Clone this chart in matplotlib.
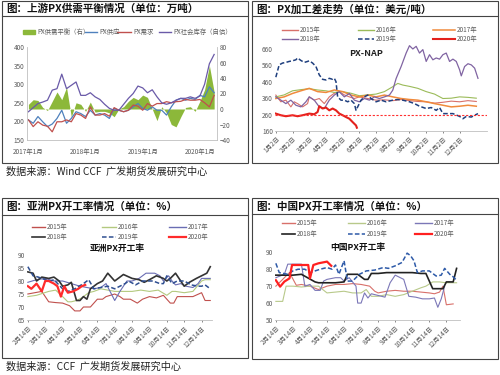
import matplotlib
matplotlib.use('Agg')
import matplotlib.pyplot as plt
from matplotlib.lines import Line2D
from matplotlib.patches import Rectangle

plt.rcParams['font.family'] = ['Noto Sans CJK SC', 'DejaVu Sans']

# ---------- panel 1: PX supply / demand (monthly, 2017-01 .. 2020-04)
p1_ticklabels = ['2017年1月', '2018年1月', '2019年1月', '2020年1月']
p1_supply = [204, 195, 213, 199, 186, 193, 208, 230, 195, 208, 226, 221, 213, 230, 217, 221, 217, 208, 235, 230,
             226, 230, 239, 248, 235, 230, 239, 230, 230, 217, 239, 257, 262, 257, 262, 259, 270, 266, 293, 277]
p1_demand = [204, 186, 199, 190, 187, 172, 199, 199, 204, 199, 221, 217, 208, 239, 217, 217, 221, 214, 237, 230,
             226, 230, 244, 241, 230, 248, 241, 248, 248, 253, 250, 253, 254, 259, 257, 257, 259, 250, 239, 270]
p1_stock = [226, 237, 248, 252, 257, 284, 288, 327, 288, 297, 306, 270, 270, 277, 266, 259, 246, 235, 230, 230,
            246, 262, 275, 295, 290, 277, 285, 266, 250, 246, 250, 257, 262, 262, 266, 262, 268, 300, 355, 380]
p1_balance = [6, 12, 11, 2, -2, 10, 22, 12, 28, -10, 8, 6, -3, 9, -4, -3, -3, -5, -10, 0,
              3, 10, 15, 12, 18, 15, 0, -15, 3, -5, -20, -23, -10, 2, 3, -3, 10, 25, 56, 22]

# ---------- panel 2: PX-NAP spread (x = months since 1月2日)
p2_ticklabels = ['%d月2日' % m for m in range(1, 13)]
p2_2015_x = [0, 0.3, 0.6, 0.9, 1.1, 1.3, 1.6, 1.9, 2.0, 2.3, 2.6, 2.9, 3.2, 3.5, 3.8, 4.1, 4.4, 4.7, 5.0, 5.5,
             6.0, 6.5, 7.0, 7.5, 8.0, 8.5, 9.0, 9.5, 10.0, 10.5, 11.0, 11.5, 12.0]
p2_2015_y = [379, 338, 348, 307, 338, 327, 307, 327, 368, 348, 358, 327, 368, 390, 400, 380, 368, 358, 368, 358,
             348, 350, 345, 352, 345, 340, 338, 330, 335, 342, 338, 345, 340]
p2_2016_x = [0, 0.5, 1.0, 1.5, 2.0, 2.5, 3.0, 3.5, 4.0, 4.5, 5.0, 5.5, 6.0, 6.5, 7.0, 7.3, 7.6, 8.0, 8.5, 9.0,
             9.5, 10.0, 10.5, 11.0, 11.5, 12.0]
p2_2016_y = [368, 380, 405, 412, 418, 410, 405, 395, 400, 390, 375, 380, 385, 400, 430, 450, 440, 432, 420, 400,
             385, 358, 360, 368, 365, 360]
p2_2017_x = [0, 0.5, 1.0, 1.5, 2.0, 2.5, 3.0, 3.5, 4.0, 4.5, 5.0, 5.5, 6.0, 6.5, 7.0, 7.5, 8.0, 8.5, 9.0, 9.5,
             10.0, 10.5, 11.0, 11.5, 12.0]
p2_2017_y = [358, 368, 389, 405, 420, 400, 395, 410, 400, 379, 368, 379, 368, 379, 368, 358, 352, 348, 338, 327,
             317, 307, 311, 317, 311]
p2_2018_x = [0, 0.3, 0.6, 0.9, 1.2, 1.5, 1.8, 2.0, 2.3, 2.6, 2.9, 3.2, 3.5, 3.8, 4.1, 4.4, 4.7, 5.0, 5.3, 5.6,
             5.9, 6.2, 6.5, 6.8, 7.0, 7.2, 7.5, 7.8, 8.0, 8.2, 8.4, 8.6, 8.8, 9.0, 9.2, 9.4, 9.6, 9.8, 10.0, 10.2,
             10.4, 10.6, 10.8, 11.0, 11.1, 11.3, 11.5, 11.7, 11.9, 12.1]
p2_2018_y = [368, 348, 327, 348, 317, 307, 338, 368, 348, 307, 297, 348, 379, 399, 368, 389, 348, 338, 358, 348,
             368, 358, 368, 379, 409, 480, 553, 635, 680, 660, 676, 635, 656, 584, 625, 594, 605, 598, 625, 635,
             584, 598, 584, 533, 496, 553, 570, 563, 543, 481]
p2_2019_x = [0, 0.2, 0.4, 0.6, 0.8, 1.0, 1.2, 1.3, 1.5, 1.7, 1.9, 2.0, 2.2, 2.4, 2.6, 2.8, 3.0, 3.2, 3.4, 3.5,
             3.6, 3.7, 3.9, 4.1, 4.3, 4.5, 4.7, 4.8, 4.9, 5.1, 5.3, 5.5, 5.7, 6.0, 6.3, 6.6, 7.0, 7.3, 7.6, 8.0,
             8.3, 8.6, 9.0, 9.3, 9.6, 9.8, 10.0, 10.3, 10.6, 11.0, 11.2, 11.4, 11.7, 11.9, 12.1]
p2_2019_y = [488, 563, 574, 578, 584, 588, 594, 605, 590, 578, 584, 588, 574, 553, 502, 475, 471, 481, 475, 481,
             461, 368, 348, 348, 338, 348, 327, 286, 307, 348, 368, 379, 358, 338, 348, 338, 348, 352, 348, 338,
             327, 311, 297, 303, 286, 303, 266, 266, 266, 249, 235, 249, 245, 256, 266]
p2_2020_x = [0, 0.3, 0.6, 1.0, 1.3, 1.6, 2.0, 2.3, 2.5, 2.6, 2.8, 3.0, 3.2, 3.4, 3.6, 3.8, 4.0, 4.2, 4.4, 4.6,
             4.8, 4.85]
p2_2020_y = [266, 256, 250, 256, 250, 256, 266, 262, 276, 311, 297, 303, 286, 297, 286, 266, 256, 245, 235, 214,
             194, 180]
p2_ref = 260

# ---------- panel 3: Asia PX operating rate (x = months since 2月14日)
rate_ticklabels = ['%d月14日' % m for m in range(2, 13)]
p3_2015_x = [0, 0.4, 0.8, 1.2, 1.6, 2.0, 2.4, 2.7, 3.0, 3.2, 3.6, 4.0, 4.3, 4.5, 5.0, 5.3, 5.5, 5.9, 6.3, 6.6,
             7.0, 7.4, 7.8, 8.2, 8.4, 8.6, 9.0, 9.5, 10.0, 10.2, 10.5]
p3_2015_y = [75, 75.5, 76, 72, 71.7, 71.5, 70.5, 68.5, 68.5, 70, 70, 73, 73, 74, 75, 74, 73, 73, 71.5, 73,
             74, 73.5, 74.5, 71.5, 71.5, 74, 74, 74, 75.5, 72.5, 72.5]
p3_2016_x = [0, 0.5, 1.2, 1.6, 2.0, 2.3, 2.5, 2.8, 3.1, 3.5, 3.8, 4.2, 4.6, 5.0, 5.5, 6.0, 6.5, 7.0, 7.5, 8.0,
             8.3, 8.5, 9.0, 9.5, 10.0, 10.2, 10.5]
p3_2016_y = [74, 74.5, 76, 76.5, 74, 72, 72, 72.5, 73.5, 75.5, 76, 77, 76.5, 76, 76, 76, 76.5, 76, 76.5, 74.5,
             76, 76, 75.5, 76, 80, 80.5, 80.5]
p3_2017_x = [0, 0.5, 1.0, 1.5, 2.0, 2.5, 3.0, 3.4, 3.8, 4.2, 4.5, 5.0, 5.3, 5.7, 6.0, 6.4, 6.8, 7.3, 7.6, 7.8,
             8.1, 8.3, 8.5, 8.8, 9.1, 9.5, 9.8, 10.0, 10.5]
p3_2017_y = [79.5, 80.5, 81, 80, 80, 79, 78, 77.5, 77, 77.5, 79, 72.5, 76, 80, 80, 81, 83, 83, 82, 80,
             82, 80, 78.5, 79, 78, 77.5, 79, 81, 81]
p3_2018_x = [0, 0.3, 0.5, 0.8, 1.2, 1.5, 1.8, 2.0, 2.3, 2.5, 2.8, 3.0, 3.2, 3.4, 3.6, 4.0, 4.3, 4.6, 5.0, 5.5,
             6.0, 6.4, 6.7, 7.0, 7.4, 7.8, 8.0, 8.2, 8.5, 8.8, 9.0, 9.3, 9.7, 10.0, 10.3, 10.5]
p3_2018_y = [83.5, 83, 80, 81.5, 81, 81.5, 80, 78, 78.5, 79.5, 72.5, 72.5, 74, 73, 77, 79, 80, 83, 80, 82.5,
             81, 80.5, 79.5, 80.5, 82, 81, 80, 81, 83, 80, 78, 79.5, 81, 82, 83, 85.5]
p3_2019_x = [0, 0.3, 0.6, 1.0, 1.3, 1.5, 2.0, 2.3, 2.7, 3.2, 3.5, 3.8, 4.2, 4.6, 5.0, 5.3, 5.6, 5.8, 6.2, 6.6,
             7.2, 7.6, 7.8, 8.0, 8.3, 8.6, 9.0, 9.4, 9.8, 10.0, 10.2, 10.5]
p3_2019_y = [85.5, 82, 81.5, 80.5, 80, 80.5, 77, 76, 77, 79, 80.5, 77, 77.5, 78, 77, 78, 79, 80, 78.5, 80,
             80, 79, 79, 82, 79, 80, 80, 78.5, 78, 78, 78.5, 77]
p3_2020_x = [0, 0.2, 0.5, 0.8, 1.0, 1.2, 1.5, 1.7, 1.9, 2.1, 2.3, 2.6, 2.9, 3.1, 3.3]
p3_2020_y = [78, 77, 79, 76, 80, 80, 79, 78, 74, 78, 75.5, 76, 77, 78, 78.5]

# ---------- panel 4: China PX operating rate
p4_2015_x = [0, 0.5, 0.8, 1.2, 1.5, 2.0, 2.5, 3.0, 3.5, 4.0, 4.5, 5.0, 5.5, 5.8, 6.0, 6.5, 7.0, 7.5, 8.0, 8.5,
             9.0, 9.3, 9.6, 9.8, 10.0, 10.4]
p4_2015_y = [70, 75, 78, 70.5, 71, 70, 68, 70, 71, 71, 71.5, 71, 70, 67, 66, 67, 67.5, 67, 67, 66.5,
             66, 65.5, 66.5, 70, 59, 59.5]
p4_2016_x = [0, 0.4, 0.6, 1.0, 1.5, 2.0, 2.5, 3.0, 3.5, 4.0, 4.5, 5.0, 5.3, 5.6, 6.0, 6.5, 7.0, 7.5, 8.0, 8.5,
             8.8, 9.2, 9.6, 10.0, 10.6]
p4_2016_y = [61, 61, 70, 70, 69.5, 70, 70, 66, 66.5, 67, 66, 66, 68, 64, 64, 65, 64, 65, 67, 69,
             70, 72.5, 72.5, 72, 72]
p4_2017_x = [0, 0.5, 0.7, 1.5, 1.7, 2.0, 2.3, 2.6, 2.8, 3.0, 3.5, 3.8, 4.0, 4.3, 4.7, 4.8, 5.0, 5.2, 5.4, 5.6,
             5.8, 6.2, 6.4, 6.7, 7.0, 7.5, 7.8, 8.2, 8.6, 9.0, 9.3, 9.5, 9.7, 9.9]
p4_2017_y = [75, 77, 83, 83, 70, 71, 67.5, 67.5, 73, 74, 75, 75, 73, 75, 70, 60, 60, 66, 63, 65.5,
             65, 64, 63.5, 72, 76.5, 74, 64, 63.5, 62.5, 62.5, 63, 57.5, 62.5, 70]
p4_2018_x = [0, 1.0, 1.5, 2.3, 2.5, 3.5, 4.0, 4.2, 4.8, 5.2, 5.4, 5.6, 6.0, 6.5, 8.0, 8.5, 8.8, 9.0, 9.2, 9.8,
             10.0, 10.4, 10.6]
p4_2018_y = [76.5, 76.5, 77, 72.5, 72, 72, 72.5, 77, 77, 74, 74, 77.5, 77.5, 78, 78, 77.5, 77.5, 73, 68.5, 68.5,
             72.5, 72.5, 80.5]
p4_2019_x = [0, 0.2, 0.7, 1.0, 1.3, 1.7, 2.0, 2.3, 2.6, 3.0, 3.3, 3.5, 3.7, 4.0, 4.2, 4.5, 4.9, 5.3, 5.8, 6.3,
             6.6, 7.0, 7.4, 7.7, 7.9, 8.1, 8.3, 8.6, 9.0, 9.4, 9.7, 9.9, 10.2, 10.4, 10.6]
p4_2019_y = [83.5, 78, 77, 79, 80, 80, 78, 79, 80, 81, 80, 82.5, 77, 85, 73, 73, 77, 79, 79.5, 81,
             80.5, 82, 84, 89.5, 88, 85, 78, 79, 79, 76, 76.5, 80.5, 77, 75.5, 73.5]
p4_2020_x = [0, 0.25, 0.5, 0.8, 0.95, 1.5, 1.9, 2.0, 2.2, 2.5, 3.0, 3.25]
p4_2020_y = [73.5, 69.7, 72.7, 74.6, 82.5, 82.5, 82.5, 74.6, 82.5, 83.5, 84.5, 82]

W, H = 500, 375
fig = plt.figure(figsize=(5, 3.75), dpi=100)
fig.patch.set_facecolor('white')
TICK = '#595959'


def fx(x):
    return x / W


def fy(y):
    return 1 - y / H


def add_ax(x0, y0, x1, y1):
    return fig.add_axes([fx(x0), fy(y1), (x1 - x0) / W, (y1 - y0) / H])


def frame(x0, y0, x1, y1, ybar, title):
    fig.add_artist(Rectangle((fx(x0), fy(y1)), (x1 - x0) / W, (y1 - y0) / H, fill=False,
                             ec='#444444', lw=0.8, transform=fig.transFigure))
    fig.add_artist(Line2D([fx(x0), fx(x1)], [fy(ybar), fy(ybar)], color='#444444', lw=0.8))
    fig.text(fx(x0 + 4), fy((y0 + ybar) / 2 + 0.5), title, fontsize=7.6, fontweight='bold',
             va='center', ha='left', color='#111111')


def leg(x0, y, color, label, lw=1.0, ls='-', length=13):
    fig.add_artist(Line2D([fx(x0), fx(x0 + length)], [fy(y), fy(y)], color=color, lw=lw, ls=ls))
    fig.text(fx(x0 + length + 2), fy(y), label, fontsize=4.6, va='center', color=TICK)


def style(ax):
    for s in ['top', 'right']:
        ax.spines[s].set_visible(False)
    for s in ['left', 'bottom']:
        ax.spines[s].set_color('#bfbfbf')
        ax.spines[s].set_linewidth(0.6)
    ax.tick_params(labelsize=4.6, colors=TICK, length=1.5, width=0.5, pad=1.5)
    ax.patch.set_alpha(0)


# ================= panel 1
frame(2, 1, 248, 163, 16, '图：上游PX供需平衡情况（单位：万吨）')
fig.text(fx(6), fy(172), '数据来源：Wind CCF  广发期货发展研究中心', fontsize=7.3, va='center', color='#222222')

axr = add_ax(27, 47, 217, 140)
months = list(range(len(p1_supply)))
axr.fill_between(months, 0, p1_balance, color='#8cb83a', lw=0)
axr.set_ylim(-40, 80)
axr.set_yticks([-40, -20, 0, 20, 40, 60, 80])
axr.yaxis.tick_right()
axr.set_xlim(-0.3, 39.6)
axr.set_xticks([0, 12, 24, 36])
axr.set_xticklabels(p1_ticklabels)
for s in ['top', 'left']:
    axr.spines[s].set_visible(False)
for s in ['right', 'bottom']:
    axr.spines[s].set_color('#bfbfbf')
    axr.spines[s].set_linewidth(0.6)
axr.tick_params(labelsize=4.6, colors=TICK, length=0, pad=2)
axr.tick_params(axis='x', pad=6)

axl = add_ax(27, 47, 217, 140)
axl.plot(months, p1_supply, color='#4f81bd', lw=0.9)
axl.plot(months, p1_demand, color='#c0504d', lw=0.9)
axl.plot(months, p1_stock, color='#6a5aa8', lw=0.9)
axl.set_ylim(150, 400)
axl.set_yticks(range(150, 401, 50))
axl.set_xlim(-0.3, 39.6)
axl.set_xticks([])
for s in ['top', 'right', 'bottom']:
    axl.spines[s].set_visible(False)
axl.spines['left'].set_color('#bfbfbf')
axl.spines['left'].set_linewidth(0.6)
axl.tick_params(labelsize=4.6, colors=TICK, length=0, pad=2)
axl.patch.set_alpha(0)

fig.add_artist(Rectangle((fx(23), fy(33.5)), 12 / W, 3 / H, color='#8cb83a', transform=fig.transFigure))
fig.text(fx(37), fy(32), 'PX供需平衡（右）', fontsize=4.6, va='center', color=TICK)
leg(85, 32, '#4f81bd', 'PX供应', length=12)
leg(117, 32, '#c0504d', 'PX需求', length=14)
leg(159, 32, '#6a5aa8', 'PX社会库存（自估）', length=12)

# ================= panel 2
frame(252, 1, 498, 163, 16, '图：PX加工差走势（单位：美元/吨）')
ax2 = add_ax(275, 42.4, 487, 131)
ax2.plot(p2_2015_x, p2_2015_y, color='#d8706a', lw=0.8)
ax2.plot(p2_2016_x, p2_2016_y, color='#9bbb59', lw=0.8)
ax2.plot(p2_2017_x, p2_2017_y, color='#f08a3c', lw=1.1)
ax2.plot(p2_2018_x, p2_2018_y, color='#8064a2', lw=0.9)
ax2.plot(p2_2019_x, p2_2019_y, color='#1f3f7e', lw=1.1, ls=(0, (3, 1.5)))
ax2.plot(p2_2020_x, p2_2020_y, color='#e3211c', lw=1.5)
ax2.axhline(p2_ref, color='#ff3030', lw=0.8, ls=(0, (2, 1.5)))
ax2.set_ylim(160, 700)
ax2.set_yticks(range(160, 661, 100))
ax2.set_xlim(-0.05, 12.64)
ax2.set_xticks(range(12))
ax2.set_xticklabels(p2_ticklabels, rotation=45, ha='right', rotation_mode='anchor')
style(ax2)
ax2.spines['left'].set_visible(False)
ax2.tick_params(axis='y', length=0)
ax2.text(0.43, 0.87, 'PX-NAP', transform=ax2.transAxes, fontsize=6.5, fontweight='bold',
         ha='center', va='center', color='#222222')
leg(282, 30, '#d8706a', '2015年', length=16)
leg(358, 30, '#9bbb59', '2016年', length=16)
leg(433, 30, '#f08a3c', '2017年', length=22, lw=1.1)
leg(282, 39, '#8064a2', '2018年', length=16)
leg(358, 39, '#1f3f7e', '2019年', length=16, ls=(0, (3, 1.5)), lw=1.1)
leg(433, 39, '#e3211c', '2020年', length=22, lw=1.5)

# ================= panel 3
frame(2, 198, 248, 358, 215, '图：亚洲PX开工率情况（单位：%）')
fig.text(fx(6), fy(367), '数据来源：CCF  广发期货发展研究中心', fontsize=7.3, va='center', color='#222222')
ax3 = add_ax(27, 255, 212, 320)
ax3.plot(p3_2015_x, p3_2015_y, color='#c0504d', lw=0.8)
ax3.plot(p3_2016_x, p3_2016_y, color='#b3c97f', lw=0.8)
ax3.plot(p3_2017_x, p3_2017_y, color='#6a6db3', lw=0.8)
ax3.plot(p3_2018_x, p3_2018_y, color='#333333', lw=1.2)
ax3.plot(p3_2019_x, p3_2019_y, color='#2f4f91', lw=1.1, ls=(0, (3, 1.5)))
ax3.plot(p3_2020_x, p3_2020_y, color='#ff2b2b', lw=1.6)
ax3.set_ylim(65, 90)
ax3.set_yticks(range(65, 91, 5))
ax3.set_xlim(-0.05, 10.6)
ax3.set_xticks(range(11))
ax3.set_xticklabels(rate_ticklabels, rotation=45, ha='right', rotation_mode='anchor')
style(ax3)
ax3.spines['left'].set_visible(False)
ax3.tick_params(axis='y', length=0)
fig.text(fx(117), fy(248), '亚洲PX开工率', fontsize=6.3, fontweight='bold', ha='center', va='center',
         color='#111111')
leg(32, 226.7, '#c0504d', '2015年', length=13)
leg(102, 226.7, '#b3c97f', '2016年', length=14)
leg(169, 226.7, '#6a6db3', '2017年', length=17)
leg(32, 236.7, '#333333', '2018年', length=13, lw=1.2)
leg(102, 236.7, '#2f4f91', '2019年', length=14, ls=(0, (3, 1.5)), lw=1.1)
leg(169, 236.7, '#ff2b2b', '2020年', length=17, lw=1.6)

# ================= panel 4
frame(252, 198, 498, 359, 214, '图：中国PX开工率情况（单位：%）')
ax4 = add_ax(275, 252.3, 460, 320)
ax4.plot(p4_2015_x, p4_2015_y, color='#d8706a', lw=0.8)
ax4.plot(p4_2016_x, p4_2016_y, color='#b8c98a', lw=0.8)
ax4.plot(p4_2017_x, p4_2017_y, color='#7b77b7', lw=0.8)
ax4.plot(p4_2018_x, p4_2018_y, color='#222222', lw=1.2)
ax4.plot(p4_2019_x, p4_2019_y, color='#2e5aa8', lw=1.1, ls=(0, (3, 1.5)))
ax4.plot(p4_2020_x, p4_2020_y, color='#ff2020', lw=1.6)
ax4.set_ylim(50, 90)
ax4.set_yticks(range(50, 91, 10))
ax4.set_xlim(-0.05, 10.8)
ax4.set_xticks(range(11))
ax4.set_xticklabels(rate_ticklabels, rotation=45, ha='right', rotation_mode='anchor')
style(ax4)
ax4.spines['left'].set_visible(False)
ax4.tick_params(axis='y', length=0)
fig.text(fx(358), fy(247), '中国PX开工率', fontsize=6.3, fontweight='bold', ha='center', va='center',
         color='#111111')
leg(282, 223.3, '#d8706a', '2015年', length=13)
leg(348, 223.3, '#b8c98a', '2016年', length=17)
leg(415, 223.3, '#7b77b7', '2017年', length=17)
leg(282, 234, '#222222', '2018年', length=13, lw=1.2)
leg(348, 234, '#2e5aa8', '2019年', length=17, ls=(0, (3, 1.5)), lw=1.1)
leg(415, 234, '#ff2020', '2020年', length=17, lw=1.6)

fig.savefig('out.png', dpi=100)
